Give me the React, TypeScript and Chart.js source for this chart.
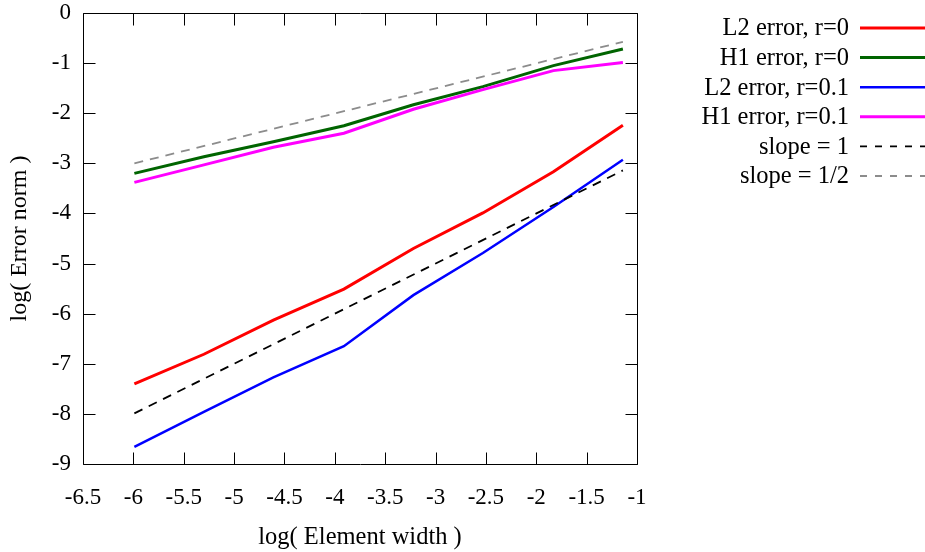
import React, { useEffect, useRef } from "react";
import { Chart, registerables } from "chart.js";
Chart.register(...registerables);

const FONT = '"Liberation Serif", "Times New Roman", Times, serif';

// log(element width)
const xValues = [-5.99, -5.3, -4.61, -3.91, -3.22, -2.53, -1.83, -1.14];
const l2r0 = [-7.4, -6.81, -6.13, -5.51, -4.7, -3.99, -3.17, -2.24];
const h1r0 = [-3.2, -2.87, -2.57, -2.25, -1.83, -1.47, -1.05, -0.72];
const l2r01 = [-8.66, -7.96, -7.27, -6.65, -5.63, -4.79, -3.87, -2.93];
const h1r01 = [-3.38, -3.03, -2.68, -2.4, -1.92, -1.53, -1.15, -0.99];
const slopeX = [-5.99, -1.14];
const slope1 = [-7.99, -3.14];
const slopeHalf = [-3.0, -0.575];

const seriesLabels = [
  "L2 error, r=0",
  "H1 error, r=0",
  "L2 error, r=0.1",
  "H1 error, r=0.1",
  "slope = 1",
  "slope = 1/2",
];
const seriesColors = ["#ff0000", "#006400", "#0000ff", "#ff00ff", "#000000", "#8c8c8c"];
const seriesWidths = [3, 3, 2.5, 3, 1.8, 1.8];

const xTitle = "log( Element width )";
const yTitle = "log( Error norm )";

export default function App() {
  const ref = useRef<HTMLCanvasElement>(null);

  useEffect(() => {
    document.body.style.margin = "0";
    const canvas = ref.current!;
    const pts = (xs: number[], ys: number[]) => xs.map((x, i) => ({ x, y: ys[i] }));
    const seriesData = [
      pts(xValues, l2r0),
      pts(xValues, h1r0),
      pts(xValues, l2r01),
      pts(xValues, h1r01),
      pts(slopeX, slope1),
      pts(slopeX, slopeHalf),
    ];
    const dashes = [[], [], [], [], [9, 7], [9, 7]];
    const datasets = seriesData.map((d, i) => ({
      label: seriesLabels[i],
      data: d,
      borderColor: seriesColors[i],
      backgroundColor: seriesColors[i],
      borderWidth: seriesWidths[i],
      borderDash: dashes[i],
      pointRadius: 0,
      tension: 0,
      fill: false,
      order: 10 - i,
    }));

    const frame = {
      id: "gnuFrame",
      afterDatasetsDraw(chart: any) {
        const { ctx, chartArea: a, scales } = chart;
        ctx.save();
        ctx.strokeStyle = "#000";
        ctx.lineWidth = 1;
        const L = Math.round(a.left) + 0.5;
        const R = Math.round(a.right) + 0.5;
        const T = Math.round(a.top) + 0.5;
        const B = Math.round(a.bottom) + 0.5;
        ctx.beginPath();
        ctx.rect(L, T, R - L, B - T);
        ctx.stroke();
        const tl = 12;
        ctx.beginPath();
        scales.x.ticks.forEach((t: any) => {
          const px = Math.round(scales.x.getPixelForValue(t.value)) + 0.5;
          ctx.moveTo(px, B);
          ctx.lineTo(px, B - tl);
          ctx.moveTo(px, T);
          ctx.lineTo(px, T + tl);
        });
        scales.y.ticks.forEach((t: any) => {
          const py = Math.round(scales.y.getPixelForValue(t.value)) + 0.5;
          ctx.moveTo(L, py);
          ctx.lineTo(L + tl, py);
          ctx.moveTo(R, py);
          ctx.lineTo(R - tl, py);
        });
        ctx.stroke();

        // legend (gnuplot style: text right-aligned, sample to the right)
        ctx.font = `24.5px ${FONT}`;
        ctx.textAlign = "right";
        ctx.textBaseline = "middle";
        ctx.fillStyle = "#000";
        datasets.forEach((ds, i) => {
          const y = 28 + i * 29.6;
          ctx.fillText(ds.label, 849, y + 1);
          ctx.save();
          ctx.strokeStyle = ds.borderColor;
          ctx.lineWidth = ds.borderWidth;
          ctx.setLineDash(ds.borderDash.length ? [7, 8] : []);
          ctx.beginPath();
          ctx.moveTo(860, y);
          ctx.lineTo(925, y);
          ctx.stroke();
          ctx.restore();
        });
        ctx.restore();
      },
    };

    const fmt = (v: any) => {
      const n = Math.round(Number(v) * 10) / 10;
      return String(n);
    };

    const chart = new Chart(canvas, {
      type: "line",
      data: { datasets: datasets as any },
      options: {
        animation: false,
        responsive: false,
        maintainAspectRatio: false,
        layout: { padding: { left: 0, right: 288, top: 13, bottom: 0 } },
        plugins: { legend: { display: false }, tooltip: { enabled: false } },
        scales: {
          x: {
            type: "linear",
            min: -6.5,
            max: -1,
            grid: { display: false, drawTicks: false },
            border: { display: false },
            ticks: {
              stepSize: 0.5,
              color: "#000",
              font: { family: FONT, size: 23 },
              padding: 20,
              maxRotation: 0,
              autoSkip: false,
              callback: (v: any) => fmt(v),
            },
            title: {
              display: true,
              text: xTitle,
              color: "#000",
              font: { family: FONT, size: 24.5 },
              padding: { top: 0, bottom: 0 },
            },
            afterFit: (s: any) => {
              s.height = 88;
            },
          },
          y: {
            type: "linear",
            min: -9,
            max: 0,
            grid: { display: false, drawTicks: false },
            border: { display: false },
            ticks: {
              stepSize: 1,
              color: "#000",
              font: { family: FONT, size: 23, lineHeight: 0.05 },
              padding: 12,
              autoSkip: false,
              callback: (v: any) => fmt(v),
            },
            title: {
              display: true,
              text: yTitle,
              color: "#000",
              font: { family: FONT, size: 24 },
              padding: { top: 5, bottom: 0 },
            },
            afterFit: (s: any) => {
              s.width = 83;
            },
          },
        },
      },
      plugins: [frame],
    });
    return () => chart.destroy();
  }, []);

  return (
    <div style={{ position: "relative", width: 925, height: 552, background: "#fff" }}>
      <canvas ref={ref} width={925} height={552} style={{ display: "block" }} />
    </div>
  );
}
